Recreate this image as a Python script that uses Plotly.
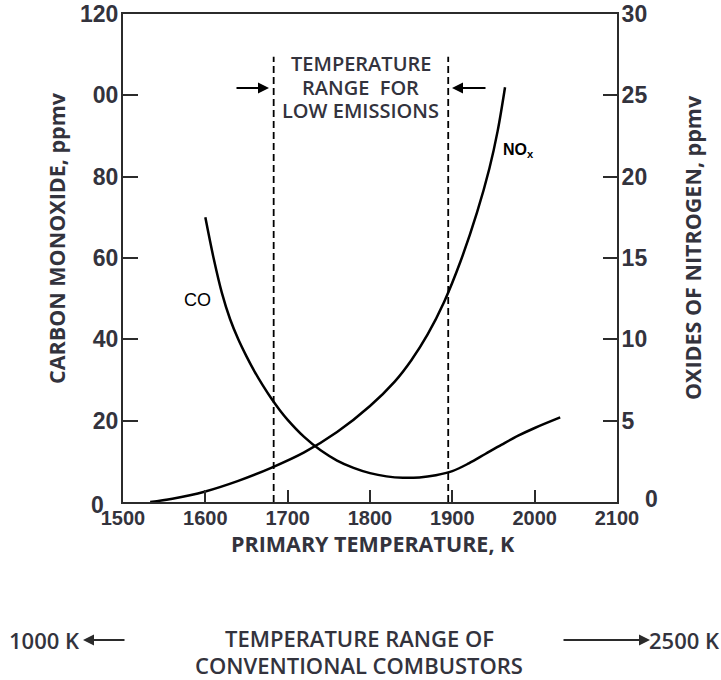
import plotly.graph_objects as go

# ---- data ----
temp_co = [1600, 1610, 1620, 1630, 1640, 1650, 1660, 1670, 1680, 1690, 1700, 1720,
           1740, 1760, 1780, 1800, 1820, 1840, 1860, 1880, 1900, 1920, 1940, 1960,
           1980, 2000, 2031]
co_ppmv = [70, 60, 51.5, 45, 40, 35.8, 32, 28.6, 25.5, 22.7, 20.2, 16,
           12.7, 10.2, 8.4, 7.1, 6.3, 5.95, 6.05, 6.6, 7.6, 9.5, 11.8, 14.1,
           16.3, 18.2, 20.8]

temp_nox = [1533, 1560, 1600, 1640, 1680, 1720, 1760, 1800, 1830, 1850, 1870, 1890,
            1910, 1930, 1945, 1955, 1964]
nox_ppmv = [0, 0.2, 0.65, 1.3, 2.1, 3.05, 4.3, 5.9, 7.4, 8.7, 10.3, 12.3,
            14.8, 17.8, 20.5, 22.8, 25.5]

low_emission_range = [1683, 1895]
range_top_co = 109.5

x_ticks = [1500, 1600, 1700, 1800, 1900, 2000, 2100]
co_ticks = [20, 40, 60, 80, 100, 120]
co_tick_text = ["20", "40", "60", "80", "00", "120"]
nox_ticks = [5, 10, 15, 20, 25, 30]

INK = "#2b2b2b"
TXT = "#33333d"
TICKFONT = dict(family="Liberation Sans, Arial, sans-serif", size=23, color=TXT, weight=700)
XTICKFONT = dict(family="Liberation Sans, Arial, sans-serif", size=20, color=TXT, weight=700)
TITLEFONT = dict(family="Open Sans, sans-serif", size=21.5, color=TXT, weight=700)
NOTEFONT = dict(family="Open Sans, sans-serif", size=20, color=TXT, weight=600)
BOTFONT = dict(family="Open Sans, sans-serif", size=22, color=TXT, weight=600)

fig = go.Figure()

fig.add_trace(go.Scatter(x=temp_co, y=co_ppmv, mode="lines", yaxis="y",
                         line=dict(color="black", width=2.5, shape="spline", smoothing=1.0),
                         showlegend=False, hoverinfo="skip"))
fig.add_trace(go.Scatter(x=temp_nox, y=nox_ppmv, mode="lines", yaxis="y2",
                         line=dict(color="black", width=2.5, shape="spline", smoothing=1.0),
                         showlegend=False, hoverinfo="skip"))
for t in low_emission_range:
    fig.add_trace(go.Scatter(x=[t, t], y=[0, range_top_co], mode="lines", yaxis="y",
                             line=dict(color="black", width=1.8, dash="7px,4px"),
                             showlegend=False, hoverinfo="skip"))

fig.update_layout(
    width=721, height=680,
    margin=dict(l=123, r=104, t=14, b=178, autoexpand=False),
    paper_bgcolor="white", plot_bgcolor="white",
    xaxis=dict(range=[1500, 2100], tickvals=x_ticks, ticks="inside", ticklen=12,
               tickwidth=2, tickcolor=INK, showline=True, linecolor=INK, linewidth=2,
               mirror=True, showgrid=False, zeroline=False, tickfont=XTICKFONT,
               ticklabelstandoff=-3, automargin=False),
    yaxis=dict(range=[0, 120], tickvals=co_ticks, ticktext=co_tick_text, ticks="inside",
               ticklen=15, tickwidth=2, tickcolor=INK, showline=True, linecolor=INK,
               linewidth=2, showgrid=False, zeroline=False, tickfont=TICKFONT,
               ticklabelstandoff=-2, automargin=False),
    yaxis2=dict(range=[0, 30], tickvals=nox_ticks, overlaying="y", side="right",
                ticks="inside", ticklen=14, tickwidth=2, tickcolor=INK, showline=True,
                linecolor=INK, linewidth=2, showgrid=False, zeroline=False,
                tickfont=TICKFONT, ticklabelstandoff=-2, automargin=False),
)

def px_x(p):
    return (p - 123) / 494.0

def px_y(p):
    return (502 - p) / 488.0

def label(text, px, py, font, angle=0):
    return dict(text=text, x=px_x(px), y=px_y(py), xref="paper", yref="paper",
                xanchor="center", yanchor="middle", showarrow=False,
                textangle=angle, font=font)

def arrow(px, py, ax, color):
    return dict(text="", x=px_x(px), y=px_y(py), xref="paper", yref="paper",
                showarrow=True, ax=ax, ay=0, arrowhead=2, arrowsize=1.1,
                arrowwidth=2, arrowcolor=color)

ann = []
# zero labels
ann.append(label("0", 97, 505, TICKFONT))
ann.append(label("0", 651, 499, TICKFONT))
# axis titles
ann.append(label("CARBON MONOXIDE, ppmv", 57, 238, TITLEFONT, -90))
ann.append(label("OXIDES OF NITROGEN, ppmv", 692, 248, TITLEFONT, -90))
ann.append(label("PRIMARY TEMPERATURE, K", 373, 543, TITLEFONT))
# low emission note
mid = sum(low_emission_range) / 2
for txt, py in [("TEMPERATURE", 64), ("RANGE  FOR", 87), ("LOW EMISSIONS", 110)]:
    ann.append(dict(text=txt, x=mid, y=px_y(py), xref="x", yref="paper",
                    xanchor="center", yanchor="middle", showarrow=False, font=NOTEFONT))
ann.append(arrow(269, 88, -34, "black"))
ann.append(arrow(452, 88, 35, "black"))
# curve labels
ann.append(label("CO", 197, 300, dict(family="Liberation Sans, Arial", size=18,
                                      color="black")))
ann.append(label("NO<sub>x</sub>", 518, 151, dict(family="Liberation Sans, Arial",
                                                  size=16, color="black", weight=700)))
# bottom conventional combustors note
ann.append(label("TEMPERATURE RANGE OF", 359, 638, BOTFONT))
ann.append(label("CONVENTIONAL COMBUSTORS", 359, 665, BOTFONT))
ann.append(label("1000 K", 44, 640, BOTFONT))
ann.append(label("2500 K", 684, 640, BOTFONT))
ann.append(arrow(83, 640, 43, INK))
ann.append(arrow(650, 640, -88, INK))
fig.update_layout(annotations=ann)

fig.write_html("out.html", config={"displayModeBar": False},
               post_script="document.body.style.margin='0';document.body.style.overflow='hidden';")
